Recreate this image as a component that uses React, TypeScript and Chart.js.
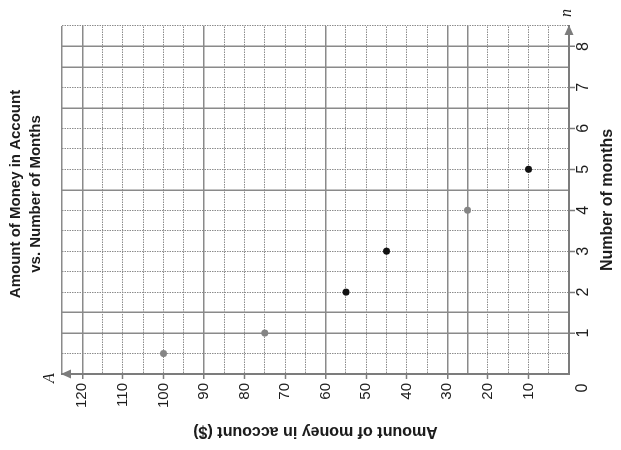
import React, { useEffect, useRef } from "react";
import { Chart, registerables } from "chart.js";

Chart.register(...registerables);

// ---- data ----
const titleLines = ["Amount of Money in Account", "vs. Number of Months"];
const xAxisTitle = "Number of months";
const yAxisTitle = "Amount of money in account ($)";
const xAxisLetter = "n";
const yAxisLetter = "A";
const originLabel = "0";

const grayMonths = [0.5, 1, 4];
const grayAmounts = [100, 75, 25];
const blackMonths = [2, 3, 5];
const blackAmounts = [55, 45, 10];

const monthTicks = [1, 2, 3, 4, 5, 6, 7, 8];
const amountTicks = [10, 20, 30, 40, 50, 60, 70, 80, 90, 100, 110, 120];
const solidMonthLines = [1, 1.5, 4.5, 6.5, 7.5, 8];
const solidAmountLines = [25, 30, 60, 90, 120, 125];

const monthMax = 8.5;
const amountMax = 125;

const SANS = '"Liberation Sans", Arial, Helvetica, sans-serif';
const SERIF = '"Liberation Serif", "DejaVu Serif", serif';
const TEXT = "#1c1c1c";
const AXIS = "#7c7c7c";
const SOLID = "#8a8a8a";
const DOTTED = "#8c8c8c";

const near = (a: number[], v: number) => a.some((t) => Math.abs(t - v) < 1e-6);

const decorPlugin = {
  id: "decor",
  afterDraw(chart: any) {
    const { ctx, chartArea: ca } = chart;
    ctx.save();
    // title
    ctx.fillStyle = TEXT;
    ctx.textAlign = "center";
    ctx.textBaseline = "middle";
    ctx.font = `bold 15px ${SANS}`;
    const cx = (ca.left + ca.right) / 2 + 6;
    titleLines.forEach((t, i) => ctx.fillText(t, cx, 16 + i * 20));

    // arrowheads
    ctx.fillStyle = AXIS;
    ctx.beginPath();
    ctx.moveTo(ca.left, ca.top - 1);
    ctx.lineTo(ca.left - 4.5, ca.top + 9);
    ctx.lineTo(ca.left + 4.5, ca.top + 9);
    ctx.closePath();
    ctx.fill();
    ctx.beginPath();
    ctx.moveTo(ca.right + 1, ca.bottom);
    ctx.lineTo(ca.right - 9, ca.bottom - 4.5);
    ctx.lineTo(ca.right - 9, ca.bottom + 4.5);
    ctx.closePath();
    ctx.fill();

    // axis letters
    ctx.fillStyle = TEXT;
    ctx.font = `italic 16px ${SERIF}`;
    ctx.fillText(yAxisLetter, ca.left - 4, ca.top - 12);
    ctx.fillText(xAxisLetter, ca.right + 13, ca.bottom - 2);

    // origin label
    ctx.font = `16px ${SANS}`;
    ctx.fillText(originLabel, ca.left - 14, ca.bottom + 14);
    ctx.restore();
  },
};

export default function App() {
  const ref = useRef<HTMLCanvasElement>(null);

  useEffect(() => {
    if (!ref.current) return;
    const chart = new Chart(ref.current, {
      type: "scatter",
      data: {
        datasets: [
          {
            label: "gray",
            data: grayMonths.map((m, i) => ({ x: m, y: grayAmounts[i] })),
            backgroundColor: "#858585",
            borderWidth: 0,
            pointRadius: 3.5,
          },
          {
            label: "black",
            data: blackMonths.map((m, i) => ({ x: m, y: blackAmounts[i] })),
            backgroundColor: "#121212",
            borderWidth: 0,
            pointRadius: 3.5,
          },
        ],
      },
      options: {
        responsive: false,
        animation: false,
        events: [],
        layout: { padding: { top: 62, right: 26, bottom: 0, left: 0 } },
        plugins: {
          legend: { display: false },
          tooltip: { enabled: false },
          title: { display: false },
        },
        scales: {
          x: {
            type: "linear",
            position: "bottom",
            min: 0,
            max: monthMax,
            afterFit: (s: any) => {
              s.height = 52;
            },
            ticks: {
              stepSize: 0.5,
              autoSkip: false,
              maxRotation: 0,
              minRotation: 0,
              padding: 1,
              color: TEXT,
              font: { family: SANS, size: 16, lineHeight: 1 },
              callback: (v: any) => (near(monthTicks, Number(v)) ? String(v) : ""),
            },
            grid: {
              color: (c: any) =>
                !c.tick || c.tick.value === 0
                  ? "rgba(0,0,0,0)"
                  : near(solidMonthLines, c.tick.value)
                  ? SOLID
                  : DOTTED,
              lineWidth: (c: any) => (c.tick && near(solidMonthLines, c.tick.value) ? 1.5 : 1),
              tickLength: 6,
              tickWidth: 1.5,
              tickColor: (c: any) => (c.tick && near(monthTicks, c.tick.value) ? AXIS : "rgba(0,0,0,0)"),
            },
            border: {
              display: true,
              color: AXIS,
              width: 2,
              dash: (c: any) => (c.tick && !near(solidMonthLines, c.tick.value) ? [1.5, 1] : []),
            },
            title: {
              display: true,
              text: xAxisTitle,
              color: TEXT,
              font: { family: SANS, size: 16, weight: "bold", lineHeight: 1.2 },
              padding: { top: 0, bottom: 4 },
            },
          },
          y: {
            type: "linear",
            position: "left",
            min: 0,
            max: amountMax,
            afterFit: (s: any) => {
              s.width = 76;
            },
            ticks: {
              stepSize: 5,
              autoSkip: false,
              padding: 4,
              color: TEXT,
              font: { family: SANS, size: 15, lineHeight: 1 },
              callback: (v: any) => (near(amountTicks, Number(v)) ? String(v) : ""),
            },
            grid: {
              color: (c: any) =>
                !c.tick || c.tick.value === 0
                  ? "rgba(0,0,0,0)"
                  : near(solidAmountLines, c.tick.value)
                  ? SOLID
                  : DOTTED,
              lineWidth: (c: any) => (c.tick && near(solidAmountLines, c.tick.value) ? 1.5 : 1),
              tickLength: 5,
              tickWidth: 1.5,
              tickColor: (c: any) => (c.tick && near(amountTicks, c.tick.value) ? AXIS : "rgba(0,0,0,0)"),
            },
            border: {
              display: true,
              color: AXIS,
              width: 2,
              dash: (c: any) => (c.tick && !near(solidAmountLines, c.tick.value) ? [1.5, 1] : []),
            },
            title: {
              display: true,
              text: yAxisTitle,
              color: TEXT,
              font: { family: SANS, size: 16, weight: "bold", lineHeight: 1.2 },
              padding: { top: 9, bottom: 0 },
            },
          },
        },
      } as any,
      plugins: [decorPlugin],
    });
    return () => chart.destroy();
  }, []);

  return (
    <div
      style={{
        position: "absolute",
        left: 0,
        top: 0,
        width: 621,
        height: 450,
        overflow: "hidden",
        background: "#ffffff",
      }}
    >
      <div
        style={{
          position: "absolute",
          left: 0,
          top: 0,
          width: 450,
          height: 621,
          transformOrigin: "0 0",
          transform: "translate(0px, 450px) rotate(-90deg)",
        }}
      >
        <canvas ref={ref} width={450} height={621} style={{ display: "block" }} />
      </div>
    </div>
  );
}
